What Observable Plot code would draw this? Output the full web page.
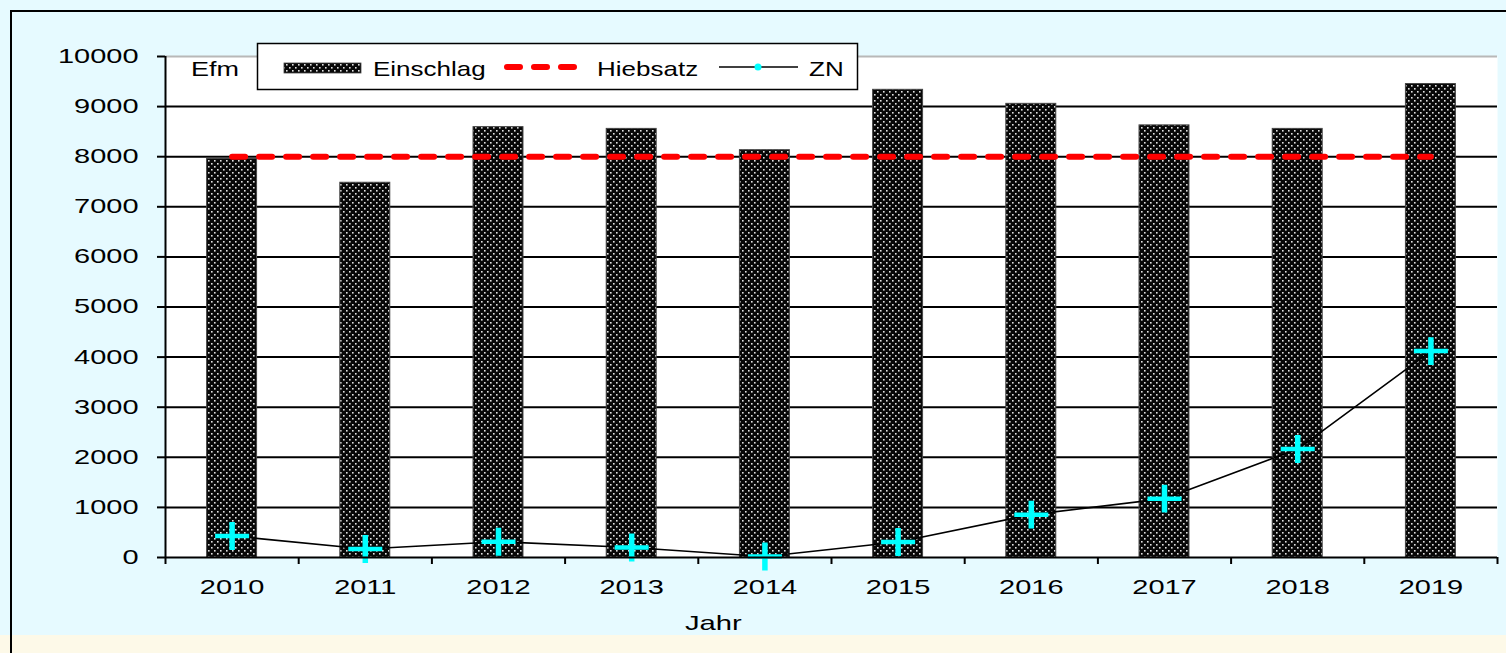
<!DOCTYPE html>
<html><head><meta charset="utf-8">
<script src="https://cdn.jsdelivr.net/npm/d3@7"></script>
<script src="https://cdn.jsdelivr.net/npm/@observablehq/plot@0.6"></script>
<style>
html,body{margin:0;padding:0;}
body{width:1506px;height:653px;overflow:hidden;font-family:"Liberation Sans",Arial,sans-serif;}
#page{position:relative;width:1506px;height:653px;background:#e6faff;overflow:hidden;}
#yellow{position:absolute;left:0;top:635px;width:1506px;height:18px;background:#fdf9e8;}
#border{position:absolute;left:10px;top:10px;width:1520px;height:700px;border-left:2px solid #000;border-top:2px solid #000;}
#chart{position:absolute;left:0;top:0;}
#overlay{position:absolute;left:0;top:0;pointer-events:none;}
</style></head>
<body>
<div id="page"><div id="yellow"></div><div id="border"></div><div id="chart"></div><svg id="overlay" width="1506" height="653"></svg></div>
<script>
// ---- data ----
const years = [2010, 2011, 2012, 2013, 2014, 2015, 2016, 2017, 2018, 2019];
const einschlag = [7955, 7480, 8590, 8555, 8130, 9335, 9055, 8625, 8555, 9450];
const hiebsatz = [8000, 8000, 8000, 8000, 8000, 8000, 8000, 8000, 8000, 8000];
const zn = [430, 170, 315, 200, 20, 310, 855, 1175, 2165, 4120];
const yTicks = [0, 1000, 2000, 3000, 4000, 5000, 6000, 7000, 8000, 9000, 10000];
const seriesNames = ["Einschlag", "Hiebsatz", "ZN"];
const yUnit = "Efm";
const xTitle = "Jahr";

const rows = years.map((year, i) => ({year, einschlag: einschlag[i], hiebsatz: hiebsatz[i], zn: zn[i]}));
const boundaries = years.map(y => y - 0.5).concat([years[years.length - 1] + 0.5]);
const barHalf = 0.1875;
const FONT = '"Liberation Sans", Arial, Helvetica, sans-serif';
const SX = 1.45;

const plot = Plot.plot({
  width: 1506, height: 653,
  marginLeft: 165, marginRight: 9, marginTop: 56, marginBottom: 96,
  style: {background: "transparent", fontFamily: FONT, fontSize: "20px", color: "#000", overflow: "visible"},
  x: {type: "linear", domain: [boundaries[0], boundaries[boundaries.length - 1]], label: null},
  y: {domain: [yTicks[0], yTicks[yTicks.length - 1]], label: null},
  marks: [
    Plot.frame({fill: "white", stroke: null}),
    Plot.gridY(yTicks.slice(1, -1), {stroke: "#000", strokeOpacity: 1, strokeWidth: 2}),
    Plot.ruleY(yTicks.slice(-1), {stroke: "#b8b8b8", strokeWidth: 2}),
    Plot.rect(rows, {x1: d => d.year - barHalf, x2: d => d.year + barHalf, y1: 0, y2: "einschlag",
      fill: "url(#dotsP)", stroke: "#444", strokeWidth: 1}),
    Plot.lineY(rows, {x: "year", y: "hiebsatz", stroke: "#ff0000", strokeWidth: 6,
      strokeDasharray: "13,14", strokeLinecap: "round"}),
    Plot.lineY(rows, {x: "year", y: "zn", stroke: "#000", strokeWidth: 1.6}),
    Plot.dot(rows, {x: "year", y: "zn", symbol: "plus", r: 10, stroke: "#00ffff", strokeWidth: 5}),
    Plot.ruleY(yTicks.slice(0, 1), {stroke: "#000", strokeWidth: 2}),
    Plot.ruleX(boundaries.slice(0, 1), {stroke: "#000", strokeWidth: 2}),
    Plot.axisY(yTicks, {tickSize: 8, tickPadding: 19, tickFormat: d3.format("d"), strokeWidth: 2, fontSize: 20, label: null}),
    Plot.axisX(boundaries, {tickSize: 7, tickFormat: () => "", strokeWidth: 2, label: null}),
    Plot.axisX(years, {tickSize: 0, tickPadding: 22, tickFormat: d3.format("d"), fontSize: 20, label: null})
  ]
});

// dotted pattern for bars
function addPattern(svgEl, id) {
  const ns = "http://www.w3.org/2000/svg";
  const defs = document.createElementNS(ns, "defs");
  defs.innerHTML = `<pattern id="${id}" patternUnits="userSpaceOnUse" width="6" height="6">
    <rect width="6" height="6" fill="#080808"/>
    <rect x="1" y="1" width="1.6" height="1.6" fill="#e2e2e2"/>
    <rect x="4" y="4" width="1.6" height="1.6" fill="#e2e2e2"/>
  </pattern>`;
  svgEl.insertBefore(defs, svgEl.firstChild);
}
addPattern(plot, "dotsP");

// widen axis tick labels like the original rendering
plot.querySelectorAll('g[aria-label$="tick label"] text').forEach(t => {
  const tr = t.getAttribute("transform") || "";
  t.setAttribute("transform", tr + ` scale(${SX},1)`);
});
// slightly wide, flat plus markers
plot.querySelectorAll('g[aria-label="dot"] path').forEach(p => {
  const tr = p.getAttribute("transform") || "";
  p.setAttribute("transform", tr + " scale(1.1,0.9)");
});
document.getElementById("chart").appendChild(plot);

// ---- overlay: legend box, unit label, x title ----
const ov = d3.select("#overlay").style("font-family", FONT);
addPattern(ov.node(), "dotsL");
function label(x, y, s, size, sx) {
  ov.append("text").attr("transform", `translate(${x},${y}) scale(${sx},1)`)
    .attr("font-size", size).attr("fill", "#000").text(s);
}
label(191, 76, yUnit, 20, 1.35);
label(685, 630, xTitle, 20, 1.46);

ov.append("rect").attr("x", 257.5).attr("y", 43.5).attr("width", 600).attr("height", 46)
  .attr("fill", "#fff").attr("stroke", "#000").attr("stroke-width", 1.5);
ov.append("rect").attr("x", 284).attr("y", 63).attr("width", 77).attr("height", 10)
  .attr("fill", "url(#dotsL)").attr("stroke", "#444").attr("stroke-width", 0.8);
label(373, 76, seriesNames[0], 20, 1.3);
ov.append("line").attr("x1", 507).attr("x2", 574).attr("y1", 67).attr("y2", 67)
  .attr("stroke", "#ff0000").attr("stroke-width", 6).attr("stroke-dasharray", "13,14").attr("stroke-linecap", "round");
label(597, 76, seriesNames[1], 20, 1.3);
ov.append("line").attr("x1", 719).attr("x2", 798).attr("y1", 67).attr("y2", 67)
  .attr("stroke", "#000").attr("stroke-width", 1.5);
ov.append("circle").attr("cx", 758).attr("cy", 67).attr("r", 3.5).attr("fill", "#00ffff");
label(809, 76, seriesNames[2], 20, 1.3);
</script>
</body></html>
